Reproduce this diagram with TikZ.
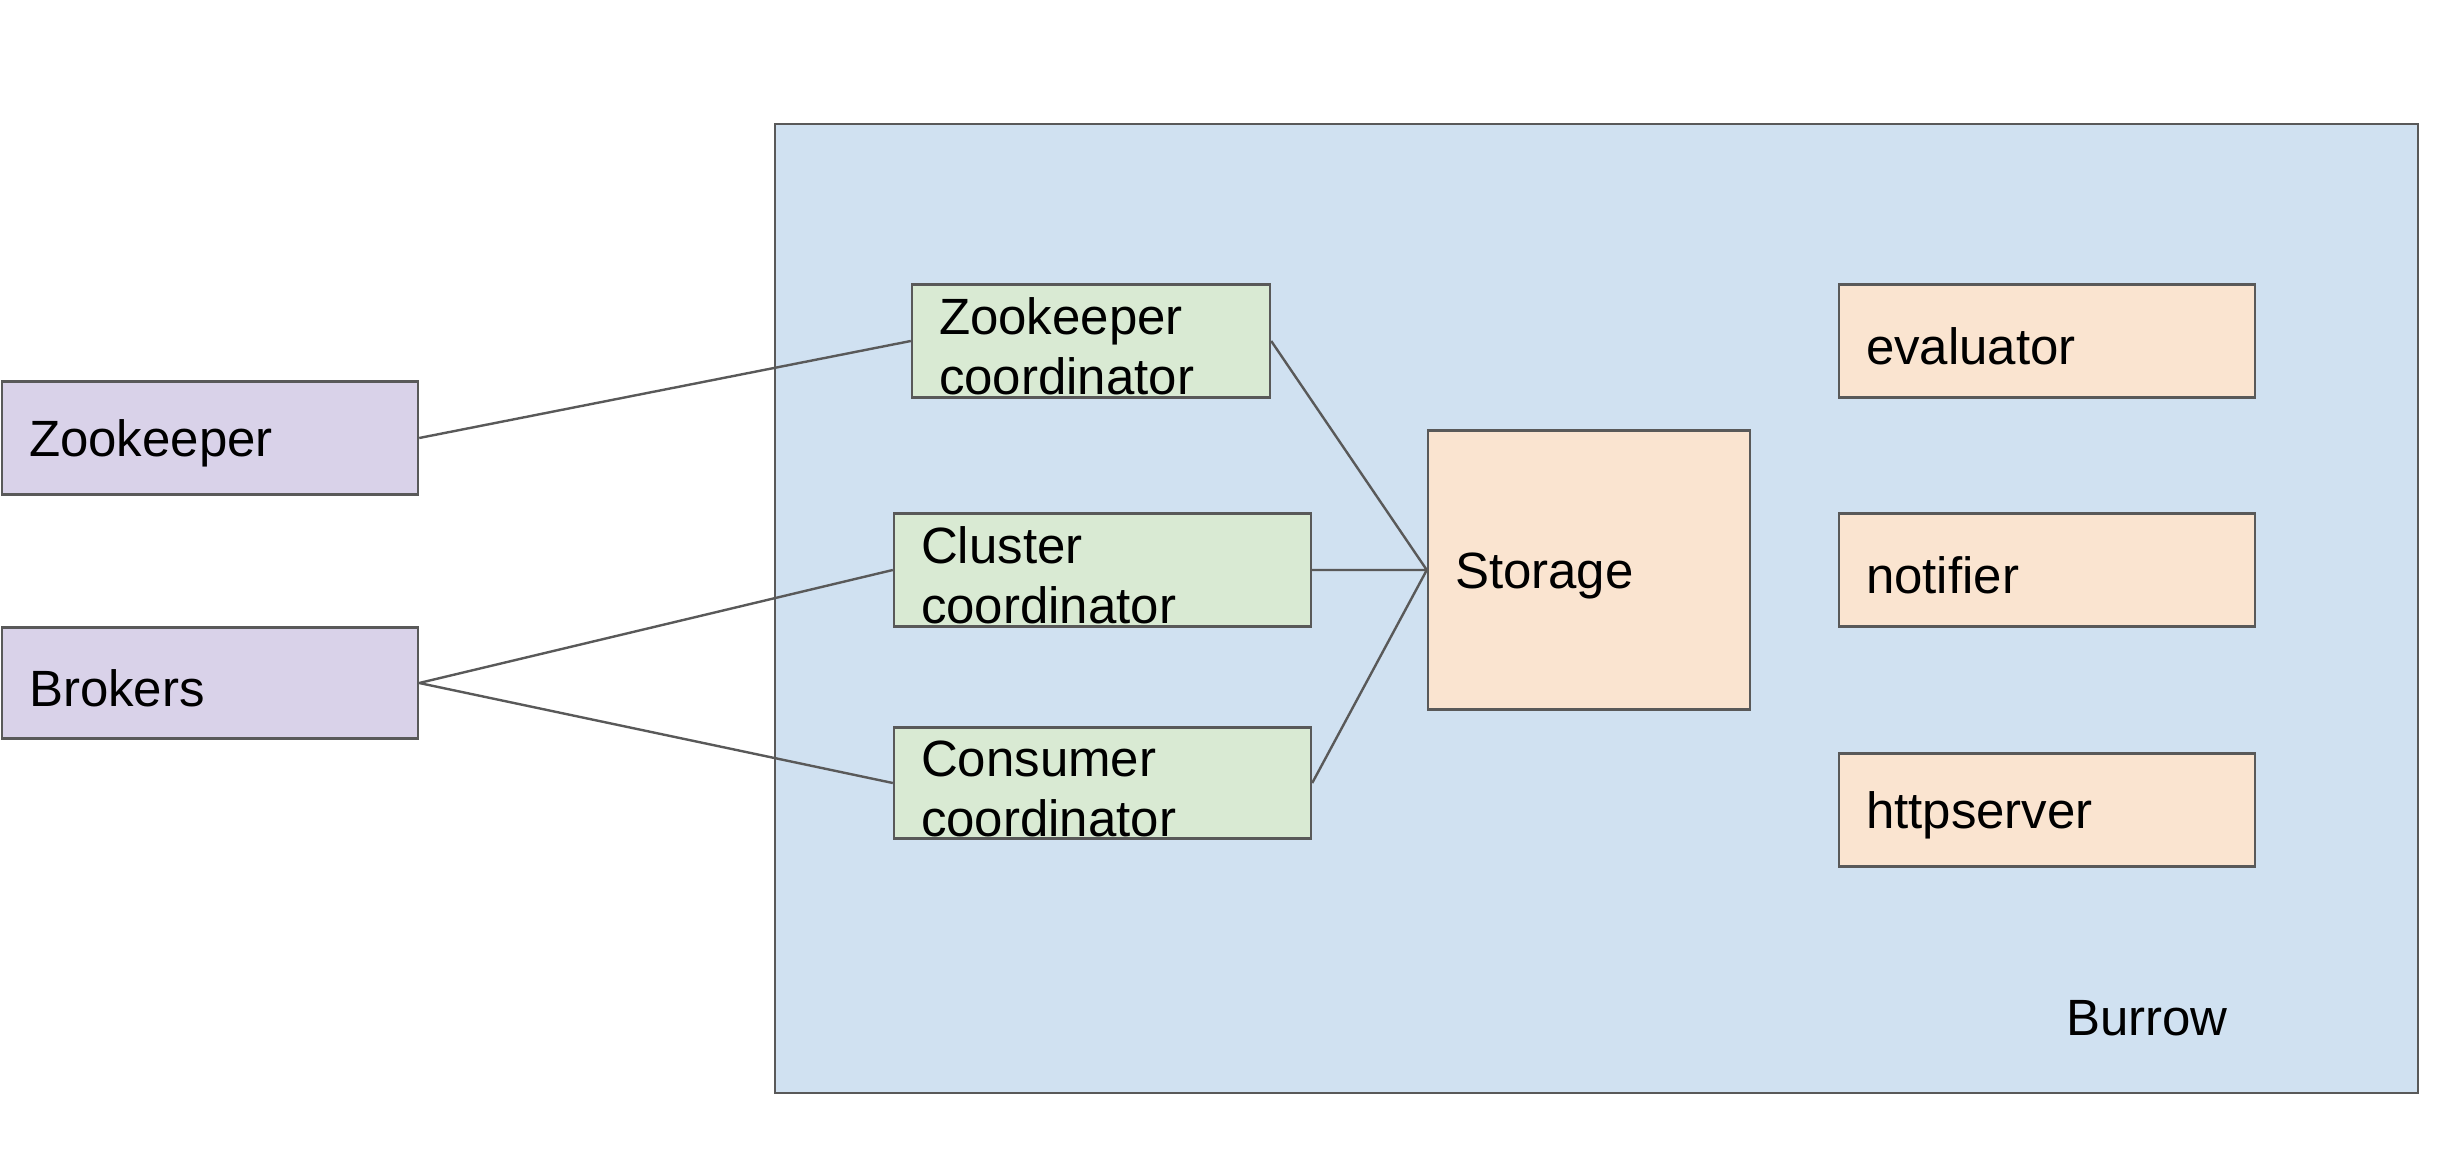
\documentclass[tikz,border=0pt]{standalone}
\usepackage{fontspec}
\setmainfont{Liberation Sans}
\usetikzlibrary{positioning}
\definecolor{lineGray}{HTML}{595959}
\definecolor{burrowBlue}{HTML}{D0E1F1}
\definecolor{coordGreen}{HTML}{D9EAD3}
\definecolor{moduleOrange}{HTML}{FAE4D0}
\definecolor{sourcePurple}{HTML}{D9D2E9}
\tikzset{
  defaultBox/.style={%
    rectangle, draw=lineGray, line width=1.2pt, inner xsep=13.5pt, inner ysep=0pt,
    align=left, minimum height=56.5pt,
    font=\fontsize{25.5}{30}\selectfont,
    execute at begin node={\rule{0pt}{23.5pt}},
  },
  sourceBox/.style={defaultBox, fill=sourcePurple, text width=181pt},
  coordBox/.style={defaultBox, fill=coordGreen},
  moduleBox/.style={defaultBox, fill=moduleOrange, text width=181pt},
  link/.style={draw=lineGray, line width=1.2pt},
}

\begin{document}
\begin{tikzpicture}[x=0.5pt,y=-0.5pt]
          \useasboundingbox (0,0) rectangle (2456,1160);
          \draw[fill=burrowBlue, draw=lineGray, line width=1.2pt] (775,124) rectangle (2418,1093);
          \node[font=\fontsize{25.5}{30}\selectfont] (burrow) at (2147,1018) {Burrow};

          \node[sourceBox] (zookeeper) at (210,438) {Zookeeper};
          \node[sourceBox, minimum height=55.5pt] (brokers) at (210,683) {Brokers};

          \node[coordBox, text width=152pt] (zkCoord) at (1091,341) {Zookeeper\\coordinator};
          \node[coordBox, text width=181.5pt] (clusterCoord) at (1102.5,570) {Cluster\\coordinator};
          \node[coordBox, text width=181.5pt, minimum height=55.5pt] (consumerCoord) at (1102.5,783) {Consumer\\coordinator};

          \node[moduleBox, text width=134pt, minimum height=139.5pt] (storage) at (1589,570) {Storage};

          \node[moduleBox] (evaluator) at (2047,341) {evaluator};
          \node[moduleBox] (notifier) at (2047,570) {notifier};
          \node[moduleBox] (httpserver) at (2047,810) {httpserver};

          \draw[link]
          (zookeeper.east) -- (zkCoord.west)
          (brokers.east) -- (clusterCoord.west)
          (brokers.east) -- (consumerCoord.west)
          (zkCoord.east) -- (storage.west)
          (clusterCoord.east) -- (storage.west)
          (consumerCoord.east) -- (storage.west)
          ;
        \end{tikzpicture}
\end{document}
